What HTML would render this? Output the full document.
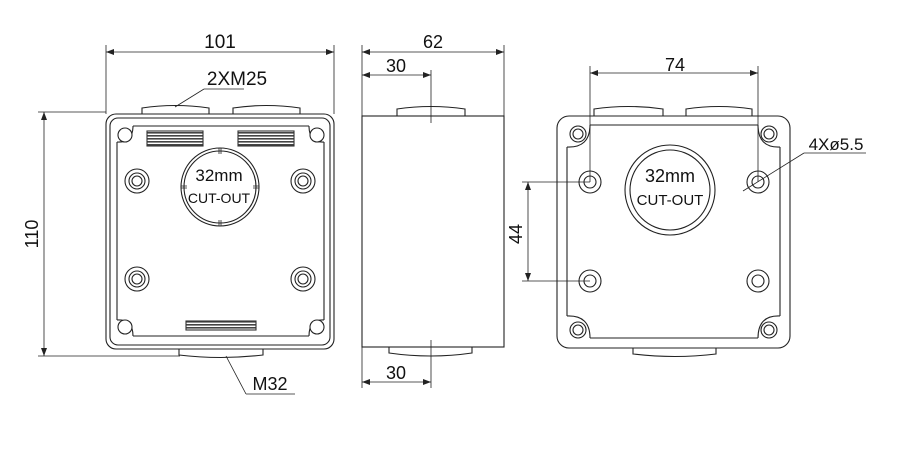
<!DOCTYPE html>
<html><head><meta charset="utf-8"><style>
html,body{margin:0;padding:0;background:#fff;}
svg{display:block;}
text{font-family:"Liberation Sans","DejaVu Sans",sans-serif;fill:#111;}
</style></head><body>
<svg width="900" height="468" viewBox="0 0 900 468" xmlns="http://www.w3.org/2000/svg">
<defs>
<pattern id="thr" width="4" height="3" patternUnits="userSpaceOnUse">
<rect width="4" height="3" fill="#fff"/><rect y="0" width="4" height="1.6" fill="#444"/>
</pattern>
<marker id="ar" markerWidth="8" markerHeight="6" refX="8" refY="3" orient="auto-start-reverse" markerUnits="userSpaceOnUse"><path d="M0,0 L8,3 L0,6 z" fill="#222"/></marker>
</defs>
<g fill="none" stroke="#222" stroke-width="1.1">
<!-- LEFT VIEW -->
<path d="M142,114 L142,108 Q175,103 209,108 L209,114"/>
<path d="M233,114 L233,108 Q266,103 300,108 L300,114"/>
<path d="M179,349 L179,355 Q221,360 263,355 L263,349"/>
<rect x="106" y="114" width="228" height="235" rx="10"/>
<rect x="110" y="118" width="220" height="227" rx="8"/>
<path d="M133,126 L309,126 M324,142 L324,320 M309,336 L133,336 M117,320 L117,142"/>
<path d="M133,126 Q133,143 117,142 M309,126 Q309,143 324,142 M309,336 Q309,319 324,320 M133,336 Q133,319 117,320" />
<circle cx="125" cy="135" r="7" fill="#fff"/><circle cx="317" cy="135" r="7" fill="#fff"/>
<circle cx="125" cy="327" r="7" fill="#fff"/><circle cx="317" cy="327" r="7" fill="#fff"/>
<g>
<circle cx="137" cy="181" r="12"/><circle cx="137" cy="181" r="8"/><circle cx="137" cy="181" r="5"/>
<circle cx="303" cy="181" r="12"/><circle cx="303" cy="181" r="8"/><circle cx="303" cy="181" r="5"/>
<circle cx="137" cy="279" r="12"/><circle cx="137" cy="279" r="8"/><circle cx="137" cy="279" r="5"/>
<circle cx="303" cy="279" r="12"/><circle cx="303" cy="279" r="8"/><circle cx="303" cy="279" r="5"/>
</g>
<circle cx="220" cy="187" r="39"/><circle cx="220" cy="187" r="36"/>
<path d="M219,148 v6 M221,148 v6 M219,220 v6 M221,220 v6 M181,186 h6 M181,188 h6 M253,186 h6 M253,188 h6" stroke-width="0.8"/>
<rect x="147" y="131" width="56" height="15" fill="url(#thr)" stroke="#333"/>
<rect x="238" y="131" width="56" height="15" fill="url(#thr)" stroke="#333"/>
<rect x="186" y="321" width="70" height="9" fill="url(#thr)" stroke="#333"/>
</g>
<g stroke="#222" stroke-width="0.8" fill="none">
<line x1="106" y1="45" x2="106" y2="114"/><line x1="334" y1="45" x2="334" y2="114"/>
<line x1="106" y1="52" x2="334" y2="52" marker-start="url(#ar)" marker-end="url(#ar)"/>
<line x1="38" y1="112" x2="106" y2="112"/><line x1="38" y1="356" x2="180" y2="356"/>
<line x1="44" y1="112" x2="44" y2="356" marker-start="url(#ar)" marker-end="url(#ar)"/>
<line x1="175" y1="107" x2="204" y2="89"/><line x1="204" y1="89" x2="244" y2="89"/>
<line x1="226" y1="356" x2="246" y2="394"/><line x1="246" y1="394" x2="295" y2="394"/>
</g>
<text x="220" y="48" font-size="19" text-anchor="middle">101</text>
<text x="237" y="85" font-size="19" text-anchor="middle">2XM25</text>
<text x="270" y="390" font-size="18" text-anchor="middle">M32</text>
<text x="0" y="0" font-size="18" text-anchor="middle" transform="translate(38,234) rotate(-90)">110</text>
<text x="219" y="181" font-size="17" text-anchor="middle">32mm</text>
<text x="219" y="203" font-size="14" text-anchor="middle">CUT-OUT</text>

<!-- SIDE VIEW -->
<g fill="none" stroke="#222" stroke-width="1.1">
<path d="M397,116 L397,109 Q431,104 465,109 L465,116"/>
<path d="M389,347 L389,353 Q431,359 472,353 L472,347"/>
<rect x="362" y="116" width="142" height="231"/>
</g>
<g stroke="#222" stroke-width="0.8" fill="none">
<line x1="362" y1="45" x2="362" y2="116"/><line x1="504" y1="45" x2="504" y2="116"/>
<line x1="362" y1="52" x2="504" y2="52" marker-start="url(#ar)" marker-end="url(#ar)"/>
<line x1="431" y1="70" x2="431" y2="123"/>
<line x1="362" y1="75" x2="431" y2="75" marker-start="url(#ar)" marker-end="url(#ar)"/>
<line x1="431" y1="340" x2="431" y2="388"/><line x1="362" y1="347" x2="362" y2="388"/>
<line x1="362" y1="382" x2="431" y2="382" marker-start="url(#ar)" marker-end="url(#ar)"/>
</g>
<text x="433" y="48" font-size="18" text-anchor="middle">62</text>
<text x="396" y="72" font-size="18" text-anchor="middle">30</text>
<text x="396" y="379" font-size="18" text-anchor="middle">30</text>

<!-- RIGHT VIEW -->
<g fill="none" stroke="#222" stroke-width="1.1">
<path d="M594,116 L594,109 Q628,104 663,109 L663,116"/>
<path d="M686,116 L686,109 Q719,104 752,109 L752,116"/>
<path d="M633,348 L633,354 Q675,359 716,354 L716,348"/>
<rect x="557" y="116" width="233" height="232" rx="12"/>
<path d="M590,125 L758,125 M780,147 L780,316 M758,338 L590,338 M567,316 L567,147"/>
<path d="M590,125 Q590,148 567,147 M758,125 Q758,148 780,147 M758,338 Q758,315 780,316 M590,338 Q590,315 567,316"/>
<circle cx="578" cy="134" r="8"/><circle cx="578" cy="134" r="5"/>
<circle cx="769" cy="134" r="8"/><circle cx="769" cy="134" r="5"/>
<circle cx="578" cy="330" r="8"/><circle cx="578" cy="330" r="5"/>
<circle cx="769" cy="330" r="8"/><circle cx="769" cy="330" r="5"/>
<circle cx="590" cy="182" r="11"/><circle cx="590" cy="182" r="6"/>
<circle cx="758" cy="182" r="11"/><circle cx="758" cy="182" r="6"/>
<circle cx="590" cy="281" r="11"/><circle cx="590" cy="281" r="6"/>
<circle cx="758" cy="281" r="11"/><circle cx="758" cy="281" r="6"/>
<circle cx="670" cy="190" r="45"/><circle cx="670" cy="190" r="40"/>
</g>
<g stroke="#222" stroke-width="0.8" fill="none">
<line x1="590" y1="66" x2="590" y2="182"/><line x1="758" y1="66" x2="758" y2="182"/>
<line x1="590" y1="73" x2="758" y2="73" marker-start="url(#ar)" marker-end="url(#ar)"/>
<line x1="522" y1="182" x2="590" y2="182"/><line x1="522" y1="281" x2="590" y2="281"/>
<line x1="528" y1="182" x2="528" y2="281" marker-start="url(#ar)" marker-end="url(#ar)"/>
<line x1="743" y1="191" x2="804" y2="153"/><line x1="804" y1="153" x2="866" y2="153"/>
</g>
<text x="675" y="71" font-size="18" text-anchor="middle">74</text>
<text x="0" y="0" font-size="18" text-anchor="middle" transform="translate(522,234) rotate(-90)">44</text>
<text x="836" y="150" font-size="17" text-anchor="middle">4Xø5.5</text>
<text x="670" y="182" font-size="18" text-anchor="middle">32mm</text>
<text x="670" y="205" font-size="15" text-anchor="middle">CUT-OUT</text>
</svg>
</body></html>
